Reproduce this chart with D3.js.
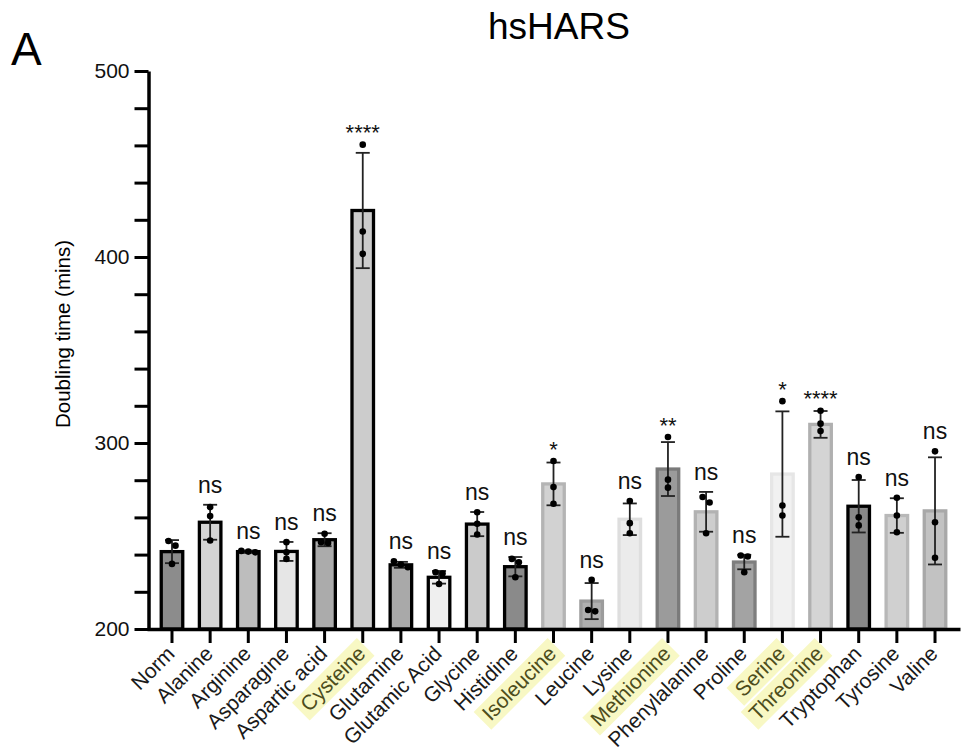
<!DOCTYPE html>
<html>
<head>
<meta charset="utf-8">
<script src="https://cdn.jsdelivr.net/npm/d3@7/dist/d3.min.js"></script>
<style>
  body { margin: 0; background: #fff; }
  svg text { font-family: "Liberation Sans", Arial, Helvetica, sans-serif; }
</style>
</head>
<body>
<svg id="chart" width="970" height="755"></svg>
<script>
// Doubling time per amino-acid condition (mean ± SD, n = 3)
const categories = ["Norm", "Alanine", "Arginine", "Asparagine", "Aspartic acid", "Cysteine",
  "Glutamine", "Glutamic Acid", "Glycine", "Histidine", "Isoleucine", "Leucine", "Lysine",
  "Methionine", "Phenylalanine", "Proline", "Serine", "Threonine", "Tryptophan", "Tyrosine", "Valine"];

const means = [241.6, 257.4, 241.6, 241.7, 248.0, 425.0, 234.5, 227.8, 256.4, 233.5, 278.0,
  215.0, 259.0, 286.0, 263.0, 236.0, 283.3, 310.0, 266.0, 261.0, 263.5];

const sds = [6.2, 9.4, 0.6, 5.1, 3.5, 31.0, 1.6, 3.4, 6.5, 5.2, 11.5,
  9.7, 8.5, 14.5, 10.7, 3.9, 33.7, 7.2, 14.1, 9.3, 28.8];

const replicates = [
  [247.3, 244.8, 235.0],
  [265.5, 260.7, 247.6],
  [242.0, 241.6, 241.2],
  [246.7, 241.3, 237.7],
  [251.2, 246.6, 246.2],
  [460.4, 413.7, 401.7],
  [236.4, 234.6, 233.2],
  [230.5, 229.8, 224.2],
  [262.8, 256.6, 250.8],
  [237.7, 235.9, 227.8],
  [290.3, 276.3, 267.3],
  [226.4, 210.2, 209.5],
  [268.8, 256.9, 251.5],
  [303.2, 280.3, 276.0],
  [271.0, 268.0, 251.5],
  [239.5, 239.0, 230.5],
  [322.5, 266.4, 261.0],
  [317.3, 310.4, 306.4],
  [281.7, 260.1, 255.7],
  [270.6, 261.0, 252.0],
  [295.5, 257.4, 238.3]
];

const significance = ["", "ns", "ns", "ns", "ns", "****", "ns", "ns", "ns", "ns", "*",
  "ns", "ns", "**", "ns", "ns", "*", "****", "ns", "ns", "ns"];

const highlighted = ["Cysteine", "Isoleucine", "Methionine", "Serine", "Threonine"];

const yTickLabels = [200, 300, 400, 500];
const yMinorStep = 20;

// Bar palette (fill / outline), one entry per condition
const barFills = ["#8c8c8c", "#d4d4d4", "#bdbdbd", "#e6e6e6", "#ababab", "#cccccc", "#a9a9a9",
  "#efefef", "#cbcbcb", "#8a8a8a", "#d2d2d2", "#b0b0b0", "#ebebeb", "#9b9b9b", "#cdcdcd",
  "#a3a3a3", "#f1f1f1", "#d4d4d4", "#888888", "#d0d0d0", "#c2c2c2"];
const barStrokes = ["#000", "#000", "#000", "#000", "#000", "#000", "#000",
  "#000", "#000", "#000", "#b4b4b4", "#9c9c9c", "#dedede", "#7a7a7a", "#b2b2b2",
  "#7e7e7e", "#e6e6e6", "#b0b0b0", "#000", "#b8b8b8", "#a8a8a8"];

const svg = d3.select("#chart");

const y = d3.scaleLinear().domain([200, 500]).range([629, 71]);
const x = d3.scaleBand().domain(categories).range([147, 960])
  .paddingInner(0.436).paddingOuter(0.373);

// Panel letter and title
svg.append("text").attr("x", 11).attr("y", 65).attr("font-size", 46).attr("fill", "#000").text("A");
svg.append("text").attr("x", 559).attr("y", 39).attr("font-size", 37).attr("text-anchor", "middle")
  .attr("fill", "#000").text("hsHARS");

// Y axis title
svg.append("text").attr("transform", "translate(70,334) rotate(-90)")
  .attr("text-anchor", "middle").attr("font-size", 20.5).attr("fill", "#000")
  .text("Doubling time (mins)");

// Bars
const bars = svg.append("g");
categories.forEach((c, i) => {
  bars.append("rect")
    .attr("x", x(c)).attr("width", x.bandwidth())
    .attr("y", y(means[i])).attr("height", y(200) - y(means[i]))
    .attr("fill", barFills[i]).attr("stroke", barStrokes[i]).attr("stroke-width", 3.3);
});

// Error bars
const errs = svg.append("g").attr("stroke", "#222").attr("stroke-width", 1.8).attr("fill", "none");
categories.forEach((c, i) => {
  const cx = x(c) + x.bandwidth() / 2;
  const hi = y(means[i] + sds[i]), lo = y(Math.max(200, means[i] - sds[i]));
  errs.append("line").attr("x1", cx).attr("x2", cx).attr("y1", hi).attr("y2", lo);
  errs.append("line").attr("x1", cx - 7).attr("x2", cx + 7).attr("y1", hi).attr("y2", hi);
  if (means[i] - sds[i] > 200)
    errs.append("line").attr("x1", cx - 7).attr("x2", cx + 7).attr("y1", lo).attr("y2", lo);
});

// Replicate points: nearly coincident values are spread sideways
const pts = svg.append("g").attr("fill", "#000");
categories.forEach((c, i) => {
  const cx = x(c) + x.bandwidth() / 2;
  const sorted = replicates[i].map(v => ({ v, py: y(v) })).sort((a, b) => a.py - b.py);
  const clusters = [];
  sorted.forEach(p => {
    const last = clusters[clusters.length - 1];
    if (last && p.py - last[last.length - 1].py < 6.4) last.push(p);
    else clusters.push([p]);
  });
  clusters.forEach(cl => {
    cl.forEach((p, k) => {
      pts.append("circle").attr("cx", cx + (k - (cl.length - 1) / 2) * 7)
        .attr("cy", p.py).attr("r", 3.3);
    });
  });
});

// Significance marks above each bar
const sig = svg.append("g").attr("text-anchor", "middle").attr("fill", "#111");
categories.forEach((c, i) => {
  if (!significance[i]) return;
  const cx = x(c) + x.bandwidth() / 2;
  const top = Math.min(y(means[i] + sds[i]), y(d3.max(replicates[i])));
  const isNs = significance[i] === "ns";
  sig.append("text").attr("x", cx).attr("y", isNs ? top - 12 : top - 4.5)
    .attr("font-size", isNs ? 23 : 22).text(significance[i]);
});

// Y axis
const yAxis = d3.axisLeft(y)
  .tickValues(d3.range(200, 501, yMinorStep))
  .tickSize(14).tickSizeOuter(0).tickPadding(5)
  .tickFormat(d => yTickLabels.includes(d) ? d : "");
const gy = svg.append("g").attr("transform", "translate(148.5,0)").call(yAxis);
gy.select(".domain").attr("stroke", "#000").attr("stroke-width", 3.5);
gy.selectAll(".tick line").attr("stroke", "#000").attr("stroke-width", 3);
gy.selectAll(".tick text").attr("font-size", 21).attr("fill", "#111")
  .attr("font-family", "'Liberation Sans', Arial, sans-serif");

// X axis
const xAxis = d3.axisBottom(x).tickSize(14).tickSizeOuter(0).tickFormat("");
const gx = svg.append("g").attr("transform", "translate(0,629)").call(xAxis);
gx.select(".domain").attr("stroke", "#000").attr("stroke-width", 3.5);
gx.selectAll(".tick line").attr("stroke", "#000").attr("stroke-width", 3);

// Rotated category labels, some on a highlight band
const labels = svg.append("g");
categories.forEach(c => {
  const cx = x(c) + x.bandwidth() / 2;
  const g = labels.append("g").attr("transform", `translate(${cx + 4},655) rotate(-45)`);
  const isHi = highlighted.includes(c);
  const t = g.append("text").attr("text-anchor", "end").attr("font-size", 21)
    .attr("fill", isHi ? "#4d4d1c" : "#1a1a1a").text(c);
  if (isHi) {
    const b = t.node().getBBox();
    g.insert("rect", "text").attr("x", b.x - 5).attr("y", b.y)
      .attr("width", b.width + 10).attr("height", b.height + 2)
      .attr("fill", "#f8f8c4");
  }
});
</script>
</body>
</html>
